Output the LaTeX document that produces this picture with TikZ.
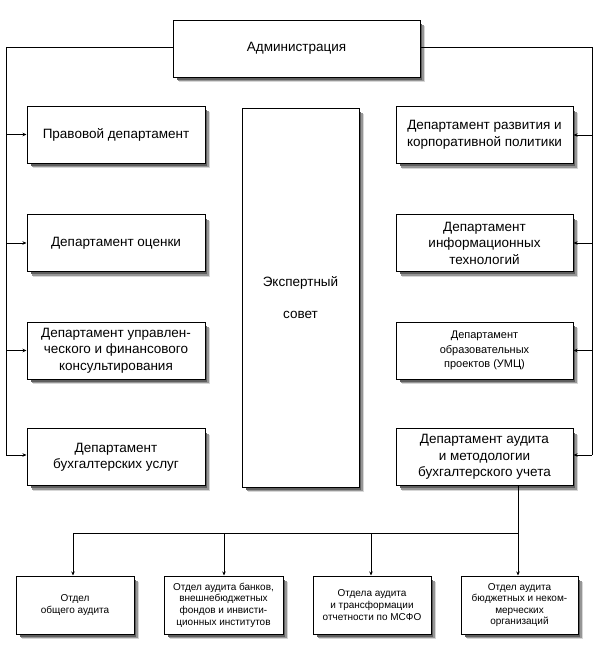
\documentclass[tikz,border=0pt]{standalone}
\usepackage{fontspec}
\setmainfont{Liberation Sans}
\usetikzlibrary{arrows.meta}
\definecolor{shadowA}{RGB}{215,215,215}
\definecolor{shadowB}{RGB}{150,150,150}
\definecolor{shadowC}{RGB}{95,95,95}
\newcommand\shadowbox[8]{%
  \draw[shadowA,line width=6pt] ({#2-#4/2+6},{#3+#5/2+2}) -- ({#2+#4/2+2},{#3+#5/2+2}) -- ({#2+#4/2+2},{#3-#5/2+6});%
  \draw[shadowB,line width=4pt] ({#2-#4/2+5},{#3+#5/2+2}) -- ({#2+#4/2+1.5},{#3+#5/2+2}) -- ({#2+#4/2+1.5},{#3-#5/2+5});%
  \draw[shadowC,line width=2pt] ({#2-#4/2+4},{#3+#5/2+1.5}) -- ({#2+#4/2+1},{#3+#5/2+1.5}) -- ({#2+#4/2+1},{#3-#5/2+4});%
  \node[#6,minimum width=#4pt,minimum height=#5pt,#7] (#1) at (#2,#3) {#8};%
}
\begin{document}
\begin{tikzpicture}[x=1pt,y=-1pt,
  box/.style={draw=black,line width=1pt,fill=white,align=center,inner sep=2pt,
    font=\fontsize{13.5}{16.5}\selectfont},
  smallbox/.style={box,font=\fontsize{11}{14.5}\selectfont},
  subbox/.style={box,font=\fontsize{10}{11.6}\selectfont},
  link/.style={draw=black,line width=0.8pt},
  arr/.style={link,-{Stealth[length=4pt,width=3.5pt]}}
]
\useasboundingbox (0,0) rectangle (600,664);
\fill[white] (0,0) rectangle (600,664);

\shadowbox{adm}{296.5}{48.5}{247}{57}{box}{}{Администрация}

\shadowbox{l1}{116}{134.5}{178}{57}{box}{}{Правовой департамент}
\shadowbox{l2}{116}{243}{178}{57}{box}{}{Департамент оценки}
\shadowbox{l3}{116}{350.5}{178}{57}{box}{}{Департамент управлен-\\ческого и финансового\\консультирования}
\shadowbox{l4}{116}{457}{178}{57}{box}{}{Департамент\\бухгалтерских услуг}

\shadowbox{exp}{300.5}{297.5}{117}{379}{box}{font=\fontsize{13.5}{32}\selectfont}{Экспертный\\совет}

\shadowbox{r1}{484.5}{135}{177}{57}{box}{}{Департамент развития и\\корпоративной политики}
\shadowbox{r2}{484.5}{243}{177}{57}{box}{}{Департамент\\информационных\\технологий}
\shadowbox{r3}{484.5}{350.5}{177}{57}{smallbox}{}{Департамент\\образовательных\\проектов (УМЦ)}
\shadowbox{r4}{484.5}{457}{177}{57}{box}{}{Департамент аудита\\и методологии\\бухгалтерского учета}

\shadowbox{b1}{75}{605}{118}{58}{subbox}{}{Отдел\\общего аудита}
\shadowbox{b2}{223.5}{605}{119}{58}{subbox}{}{Отдел аудита банков,\\внешнебюджетных\\фондов и инвисти-\\ционных институтов}
\shadowbox{b3}{372}{605}{118}{58}{subbox}{}{Отдела аудита\\и трансформации\\отчетности по МСФО}
\shadowbox{b4}{519.5}{605}{117}{58}{subbox}{}{Отдел аудита\\бюджетных и неком-\\мерческих\\организаций}

\coordinate (L) at (6,455);
\coordinate (R) at (592,455);
\coordinate (bus) at (518,533);

\draw[link] (adm.west |- 0,47) -| (L);
\draw[link] (adm.east |- 0,47) -| (R);
\draw[arr] (L |- l1.west) -- (l1.west);
\draw[arr] (L |- l2.west) -- (l2.west);
\draw[arr] (L |- l3.west) -- (l3.west);
\draw[arr] (L) -- (L -| l4.west);
\draw[arr] (R |- r1.east) -- (r1.east);
\draw[arr] (R |- r2.east) -- (r2.east);
\draw[arr] (R |- r3.east) -- (r3.east);
\draw[arr] (R) -- (R -| r4.east);

\draw[link] (r4.south -| bus) -- (bus);
\draw[link] (bus) -- (bus -| 73,0);
\draw[arr] (bus -| 73,0) -- (b1.north -| 73,0);
\draw[arr] (bus -| 224,0) -- (b2.north -| 224,0);
\draw[arr] (bus -| 371,0) -- (b3.north -| 371,0);
\draw[arr] (bus) -- (b4.north -| bus);
\end{tikzpicture}
\end{document}
